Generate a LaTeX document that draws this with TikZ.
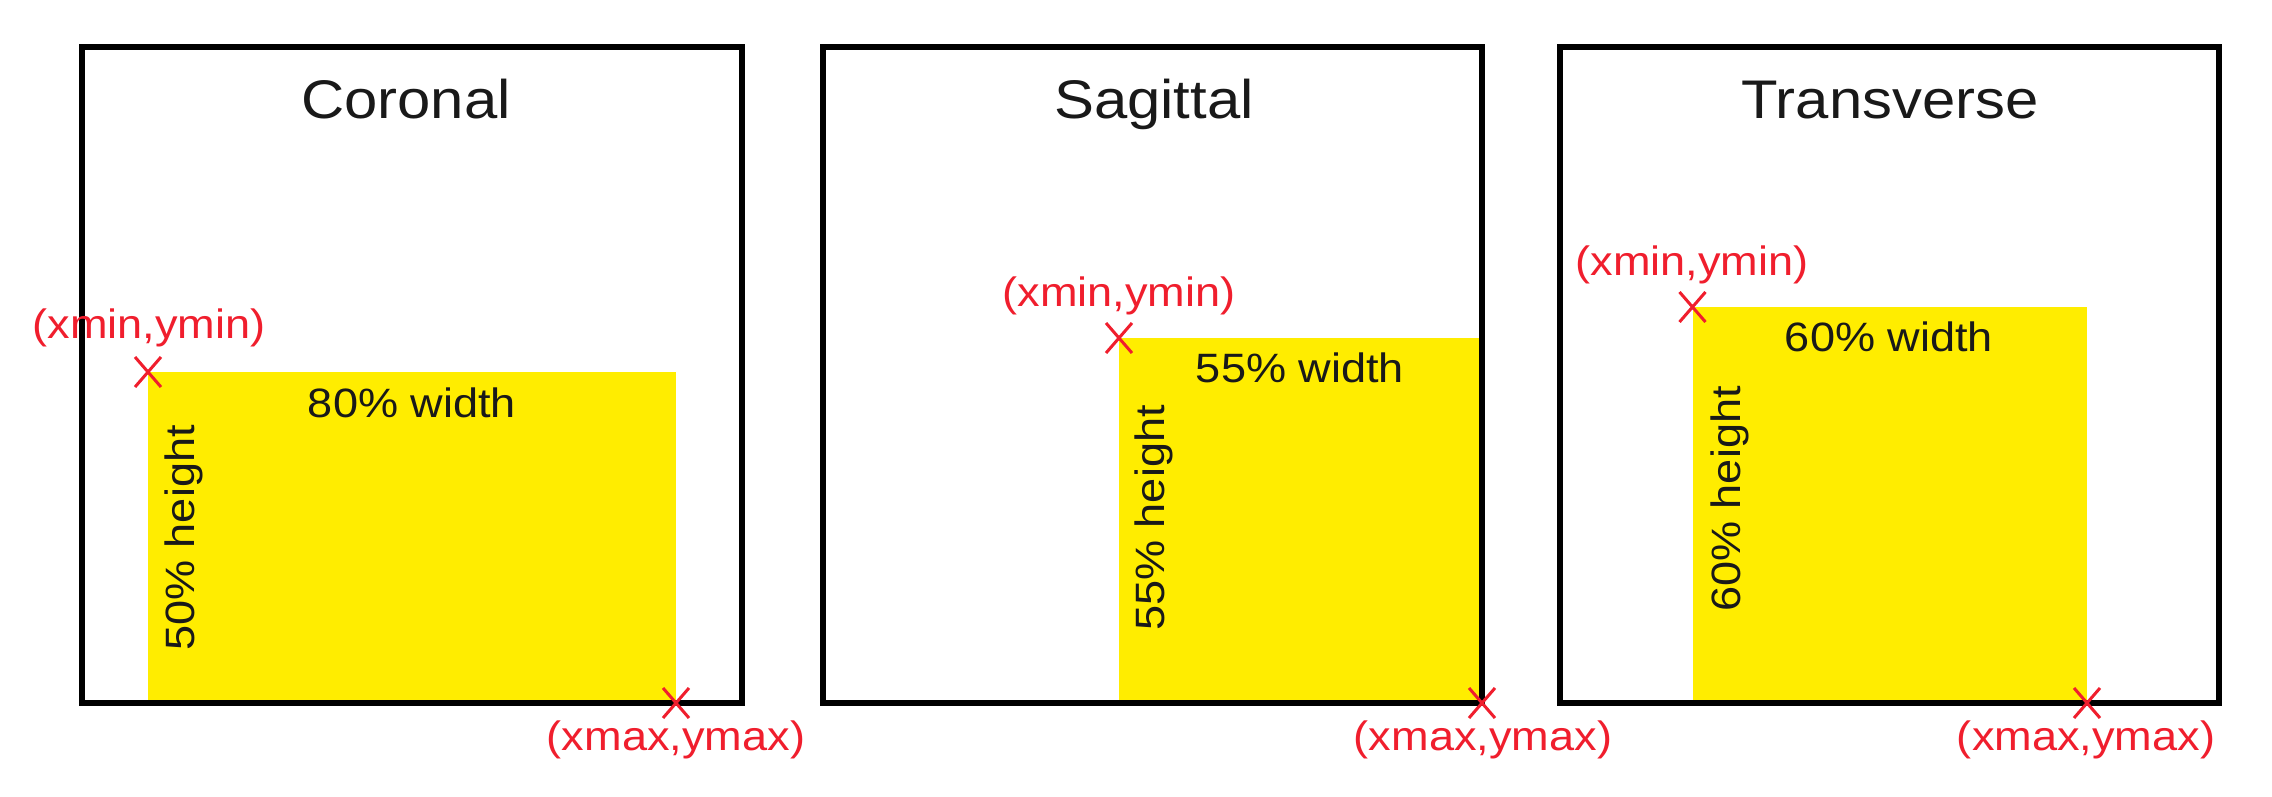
\documentclass[tikz,border=0pt]{standalone}
\usepackage{fontspec}
\setmainfont{Liberation Sans}[FakeStretch=1.1]
\definecolor{ylw}{RGB}{255,237,0}
\definecolor{redm}{RGB}{240,30,45}
\definecolor{ink}{RGB}{25,25,25}
\begin{document}
\begin{tikzpicture}[x=0.5pt,y=-0.5pt,
  panel/.style={draw=black, line width=3.2pt},
  region/.style={fill=ylw, draw=none},
  title/.style={font=\fontsize{27.2}{32}\selectfont, text=ink, anchor=base, inner sep=0pt},
  lab/.style={font=\fontsize{20.5}{24}\selectfont, text=ink, anchor=base, inner sep=0pt},
  hlab/.style={lab, rotate=90},
  cornerlab/.style={font=\fontsize{20.5}{24}\selectfont, text=redm, anchor=base, inner sep=0pt},
  cross/.style={draw=redm, line width=1.5pt}]
\useasboundingbox[fill=white] (0,0) rectangle (2272,797);

% ---------- Panel 1: Coronal ----------
\coordinate (p1tl) at (82,47);  \coordinate (p1br) at (742,703);
\coordinate (y1tl) at (148,372); \coordinate (y1br) at (676,703);
\fill[region] (y1tl) rectangle (y1br);
\draw[panel] (p1tl) rectangle (p1br);
\node[title] (t1) at (406,119) {Coronal};
\node[lab] (w1) at (412,417) {80\% width};
\node[hlab] (h1) at (194,538) {50\% height};
\draw[cross] (y1tl) +(-13,-15) -- +(13,15) (y1tl) +(-13,15) -- +(13,-15);
\coordinate (x1) at (676,703);
\draw[cross] (x1) +(-13,-15) -- +(13,15) (x1) +(-13,15) -- +(13,-15);
\node[cornerlab] (mn1) at (149,338) {(xmin,ymin)};
\node[cornerlab] (mx1) at (676,750) {(xmax,ymax)};

% ---------- Panel 2: Sagittal ----------
\coordinate (p2tl) at (823,47);  \coordinate (p2br) at (1482,703);
\coordinate (y2tl) at (1119,338); \coordinate (y2br) at (1482,703);
\fill[region] (y2tl) rectangle (y2br);
\draw[panel] (p2tl) rectangle (p2br);
\node[title] (t2) at (1154,119) {Sagittal};
\node[lab] (w2) at (1300,382) {55\% width};
\node[hlab] (h2) at (1164,518) {55\% height};
\draw[cross] (y2tl) +(-13,-15) -- +(13,15) (y2tl) +(-13,15) -- +(13,-15);
\coordinate (x2) at (1482,703);
\draw[cross] (x2) +(-13,-15) -- +(13,15) (x2) +(-13,15) -- +(13,-15);
\node[cornerlab] (mn2) at (1119,306) {(xmin,ymin)};
\node[cornerlab] (mx2) at (1483,750) {(xmax,ymax)};

% ---------- Panel 3: Transverse ----------
\coordinate (p3tl) at (1560,47);  \coordinate (p3br) at (2219,703);
\coordinate (y3tl) at (1692.5,307); \coordinate (y3br) at (2087,703);
\fill[region] (y3tl) rectangle (y3br);
\draw[panel] (p3tl) rectangle (p3br);
\node[title] (t3) at (1890,119) {Transverse};
\node[lab] (w3) at (1889,351) {60\% width};
\node[hlab] (h3) at (1740,499) {60\% height};
\draw[cross] (y3tl) +(-13,-15) -- +(13,15) (y3tl) +(-13,15) -- +(13,-15);
\coordinate (x3) at (2087,703);
\draw[cross] (x3) +(-13,-15) -- +(13,15) (x3) +(-13,15) -- +(13,-15);
\node[cornerlab] (mn3) at (1692,275) {(xmin,ymin)};
\node[cornerlab] (mx3) at (2086,750) {(xmax,ymax)};
\end{tikzpicture}
\end{document}
